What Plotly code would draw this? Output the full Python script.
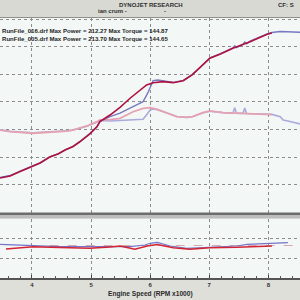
import plotly.graph_objects as go

# ---------------- data ----------------
# Run 016 (red): power and torque
red_pw_rpm = [3.46, 3.63, 3.80, 4.02, 4.14, 4.30, 4.45, 4.56, 4.69, 4.81, 4.98, 5.10, 5.15, 5.32, 5.49, 5.66, 5.83, 5.94, 6.05, 6.22, 6.39, 6.56, 6.71, 6.84, 7.01, 7.18, 7.40, 7.69, 7.98, 8.06]
red_pw     = [81.1, 82.9, 87.0, 92.3, 94.7, 100.1, 103.0, 106.4, 109.4, 113.9, 121.0, 127.5, 132.1, 138.1, 145.0, 153.3, 160.8, 165.3, 167.4, 168.3, 167.4, 169.2, 174.4, 180.8, 189.5, 193.1, 198.6, 204.5, 211.2, 212.3]
red_tq_rpm = [3.46, 3.63, 4.02, 4.30, 4.59, 4.69, 4.81, 4.93, 5.10, 5.15, 5.32, 5.49, 5.71, 5.88, 6.00, 6.12, 6.29, 6.45, 6.62, 6.72, 6.89, 7.01, 7.23, 7.47, 7.69, 7.99, 8.06]
red_tq     = [124.5, 123.0, 121.6, 122.5, 123.6, 124.5, 126.1, 128.2, 132.1, 133.6, 134.0, 135.1, 141.1, 144.2, 144.87, 143.3, 139.7, 136.6, 135.9, 136.6, 140.2, 141.8, 140.2, 139.7, 139.5, 138.6, 138.4]

# Run 005 (blue): power and torque
blu_pw_rpm = [3.46, 3.63, 3.80, 4.02, 4.14, 4.30, 4.45, 4.56, 4.69, 4.81, 4.98, 5.10, 5.15, 5.32, 5.49, 5.71, 5.83, 5.88, 5.96, 6.05, 6.13, 6.22, 6.39, 6.56, 6.71, 6.84, 7.01, 7.18, 7.40, 7.43, 7.46, 7.57, 7.60, 7.63, 7.69, 7.98, 8.06, 8.20, 8.33, 8.54]
blu_pw     = [81.5, 83.3, 87.3, 92.5, 95.0, 100.3, 103.2, 106.6, 109.6, 114.1, 121.3, 127.7, 132.4, 136.6, 139.9, 145.7, 149.3, 150.2, 158.1, 169.2, 169.8, 168.9, 167.7, 169.5, 174.7, 181.0, 189.8, 193.4, 198.8, 200.8, 199.2, 202.0, 204.2, 202.6, 205.0, 211.5, 212.8, 213.7, 213.2, 213.0]
blu_tq_rpm = [3.46, 3.63, 4.02, 4.30, 4.59, 4.69, 4.81, 4.93, 5.10, 5.15, 5.32, 5.49, 5.71, 5.88, 5.95, 6.00, 6.05, 6.12, 6.29, 6.45, 6.62, 6.72, 6.89, 7.01, 7.23, 7.40, 7.43, 7.46, 7.57, 7.60, 7.63, 7.99, 8.06, 8.20, 8.25, 8.33, 8.54]
blu_tq     = [124.8, 123.3, 121.9, 122.7, 123.8, 124.6, 126.0, 128.0, 131.8, 133.3, 132.7, 133.0, 133.6, 134.2, 139.0, 142.7, 143.5, 143.0, 139.9, 136.8, 136.0, 136.8, 140.0, 141.5, 140.3, 139.8, 144.6, 139.8, 139.6, 144.5, 139.5, 138.8, 138.7, 136.6, 133.6, 132.7, 130.0]

# lower panel (air/fuel)
red_af_rpm = [3.56, 4.02, 4.47, 4.98, 5.32, 5.49, 5.61, 5.74, 5.95, 6.12, 6.39, 6.67, 7.01, 7.47, 8.06]
red_af     = [12.90, 13.13, 13.05, 12.97, 13.10, 13.20, 13.05, 12.87, 13.20, 13.35, 13.03, 12.87, 13.03, 13.07, 13.20]
blu_af_rpm = [3.46, 4.02, 4.47, 5.15, 5.66, 5.91, 6.00, 6.12, 6.34, 6.62, 7.01, 7.47, 7.64, 8.03, 8.33]
blu_af     = [13.37, 13.20, 13.13, 13.13, 13.13, 13.30, 13.47, 13.57, 13.20, 12.97, 13.07, 13.20, 13.37, 13.45, 13.53]
target_rpm = [4.30, 8.54]
target_af  = [13.25, 13.25]

x_ticks = [4, 5, 6, 7, 8]
x_labels = ["4", "5", "6", "7", "8"]
legend_lines = [
    "RunFile_016.drf Max Power = 212.27 Max Torque = 144.87",
    "RunFile_005.drf Max Power = 213.70 Max Torque = 144.65",
]

# ---------------- figure ----------------
W = H = 300
def py(p):  # pixel row -> paper fraction
    return 1 - p / H

BLUE_PW = "#7878c0"
BLUE_TQ = "#a9abdc"
RED_PW = "#ad1240"
RED_TQ = "#e6a2b2"

fig = go.Figure()
# upper panel: blue first, red on top
fig.add_trace(go.Scatter(x=blu_tq_rpm, y=blu_tq, xaxis="x2", yaxis="y", mode="lines",
                         line=dict(color=BLUE_TQ, width=1.6)))
fig.add_trace(go.Scatter(x=red_tq_rpm, y=red_tq, xaxis="x2", yaxis="y", mode="lines",
                         line=dict(color=RED_TQ, width=1.8)))
fig.add_trace(go.Scatter(x=blu_pw_rpm, y=blu_pw, xaxis="x2", yaxis="y", mode="lines",
                         line=dict(color=BLUE_PW, width=1.4)))
fig.add_trace(go.Scatter(x=red_pw_rpm, y=red_pw, xaxis="x2", yaxis="y", mode="lines",
                         line=dict(color=RED_PW, width=1.6)))
# lower panel
fig.add_trace(go.Scatter(x=target_rpm, y=target_af, xaxis="x", yaxis="y2", mode="lines",
                         line=dict(color="#d8a8b0", width=1, dash="dash")))
fig.add_trace(go.Scatter(x=blu_af_rpm, y=blu_af, xaxis="x", yaxis="y2", mode="lines",
                         line=dict(color="#7474c8", width=1.2)))
fig.add_trace(go.Scatter(x=red_af_rpm, y=red_af, xaxis="x", yaxis="y2", mode="lines",
                         line=dict(color="#d42434", width=1.5)))

grid = dict(showgrid=True, gridcolor="#8c8c8c", gridwidth=1, griddash="dot", zeroline=False)
xr = [3.459, 8.535]

fig.update_layout(
    width=W, height=H, margin=dict(l=0, r=0, t=0, b=0),
    paper_bgcolor="#dfdfda", plot_bgcolor="#f3f8f6",
    showlegend=False,
    font=dict(family="Liberation Sans", color="#2a2a2a"),
    xaxis=dict(domain=[0, 1], anchor="y2", range=xr, tickvals=x_ticks, ticktext=x_labels,
               ticks="inside", ticklen=3, tickcolor="#444", showline=True, linecolor="#555",
               linewidth=1.5, tickfont=dict(size=6, family="Liberation Sans", weight="bold", color="#333"),
               minor=dict(dtick=0.2, ticks="inside", ticklen=2, tickcolor="#555", showgrid=False),
               **grid),
    xaxis2=dict(domain=[0, 1], anchor="y", matches="x", range=xr, tickvals=x_ticks,
                showticklabels=False, ticks="", **grid),
    yaxis=dict(domain=[py(213), py(17.5)], anchor="x2", range=[49.4, 226.4],
               tickvals=[75, 100, 125, 150, 175, 200, 225], showticklabels=False, ticks="", **grid),
    yaxis2=dict(domain=[py(278), py(218.5)], anchor="x", range=[10, 15.95],
                tickvals=[12, 14], showticklabels=False, ticks="", **grid),
)

shapes = [
    # header band
    dict(type="rect", xref="paper", yref="paper", x0=0, x1=1, y0=py(17.5), y1=1,
         fillcolor="#d9d9d3", line=dict(width=0), layer="above"),
    dict(type="line", xref="paper", yref="paper", x0=0, x1=1, y0=py(17.5), y1=py(17.5),
         line=dict(color="#8e8e8e", width=1), layer="above"),
    # separator between panels
    dict(type="rect", xref="paper", yref="paper", x0=0, x1=1, y0=py(215), y1=py(212.5),
         fillcolor="#6c6c6c", line=dict(width=0), layer="above"),
    dict(type="rect", xref="paper", yref="paper", x0=0, x1=1, y0=py(218.5), y1=py(215),
         fillcolor="#bdbdbd", line=dict(width=0), layer="above"),
]
fig.update_layout(shapes=shapes)

hdr = dict(family="Liberation Sans", size=6, weight="bold", color="#2e2e2e")
leg = dict(family="Liberation Sans", size=6.1, weight="bold", color="#1e1e1e")
ann = [
    dict(text="DYNOJET RESEARCH", x=0.503, y=py(4.5), xanchor="center", yanchor="middle", font=hdr),
    dict(text="ian crum -", x=112 / W, y=py(10.5), xanchor="center", yanchor="middle", font=hdr),
    dict(text="-", x=165 / W, y=py(11), xanchor="center", yanchor="middle", font=hdr),
    dict(text="CF: S", x=276 / W, y=py(4.5), xanchor="left", yanchor="middle", font=hdr),
    dict(text=legend_lines[0], x=0, y=py(31), xanchor="left", yanchor="middle", font=leg),
    dict(text=legend_lines[1], x=0, y=py(38), xanchor="left", yanchor="middle", font=leg),
    dict(text="Engine Speed (RPM x1000)", x=0.503, y=py(294), xanchor="center", yanchor="middle",
         font=dict(family="Liberation Sans", size=6.6, weight="bold", color="#2a2a2a")),
]
for a in ann:
    a.update(xref="paper", yref="paper", showarrow=False)
fig.update_layout(annotations=ann)

fig.write_html("out.html")
